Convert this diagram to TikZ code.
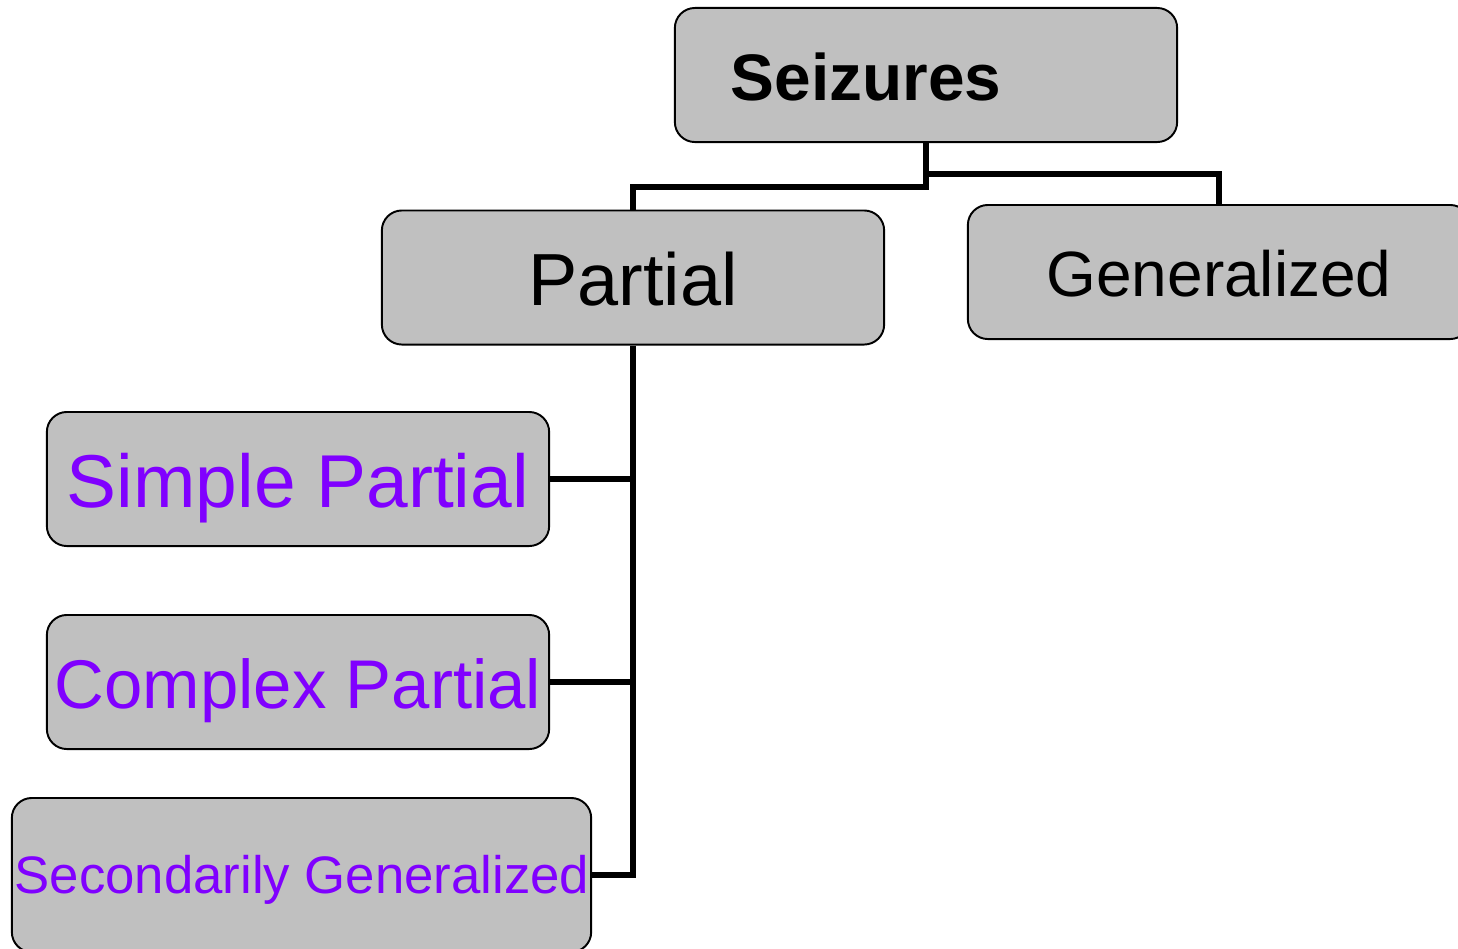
\documentclass[tikz,border=0pt]{standalone}
\usepackage{fontspec}
\setmainfont{Liberation Sans}
\definecolor{boxgray}{RGB}{192,192,192}
\definecolor{violetText}{RGB}{128,0,255}
\begin{document}
\begin{tikzpicture}[x=0.01cm,y=-0.01cm,
  box/.style={draw=black, fill=boxgray, line width=0.55pt, rounded corners=0.2cm,
              minimum width=5.02cm, minimum height=1.34cm, inner sep=0pt},
  conn/.style={draw=black, line width=1.45pt, line join=miter},
  lbl/.style={anchor=base, inner sep=0pt}]
\useasboundingbox (0,0) rectangle (1458,948);
\clip (0,0) rectangle (1458,948);

% split point where the right branch leaves the root stem
\coordinate (rootsplit) at (926,174);

% boxes
\path (926,75) node[box] (seiz) {};
\path (633,277.5) node[box] (part) {};
\path (1219,272) node[box] (gen) {};
\path (298,479) node[box] (simp) {};
\path (298,682) node[box] (comp) {};
\path (301.5,875) node[box, minimum width=5.79cm, minimum height=1.54cm] (sec) {};

% connectors
\draw[conn] (seiz.south) -- ++(0,44) -| (part.north);
\draw[conn] (rootsplit) -| (gen.north);
\draw[conn] (part.south) |- (sec.east);
\draw[conn] (simp.east) -- (simp.east -| part.south);
\draw[conn] (comp.east) -- (comp.east -| part.south);

% labels
\node[lbl, font=\fontsize{18.7}{22}\selectfont\bfseries] (seizT) at (866,100) {Seizures};
\node[lbl, font=\fontsize{21}{25}\selectfont] (partT) at (633,305) {Partial};
\node[lbl, font=\fontsize{18.2}{22}\selectfont] (genT) at (1219,296) {Generalized};
\node[lbl, font=\fontsize{21.3}{25}\selectfont, text=violetText] (simpT) at (298,507) {Simple Partial};
\node[lbl, font=\fontsize{19.6}{24}\selectfont, text=violetText] (compT) at (298,708) {Complex Partial};
\node[lbl, font=\fontsize{15}{18}\selectfont, text=violetText] (secT) at (302,893) {Secondarily Generalized};
\end{tikzpicture}
\end{document}
